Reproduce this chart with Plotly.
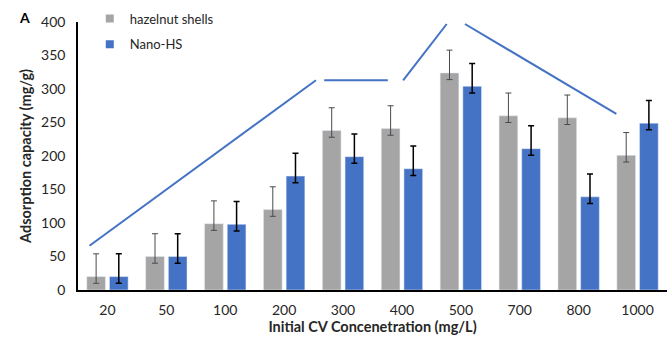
import plotly.graph_objects as go

categories = ["20", "50", "100", "200", "300", "400", "500", "700", "800", "1000"]
hazelnut = [20, 50, 99, 120, 238, 241, 324, 260, 257, 201]
nano = [20, 50, 98, 170, 199, 181, 304, 211, 139, 249]
err_plus = [34] * 10
err_minus = [10] * 10

# decorative bracket line (category-index units, mg/g)
deco_x = [-0.305, 3.54, None, 3.68, 4.76, None, 5.02, 5.76, None, 6.07, 8.64]
deco_y = [66, 313, None, 313, 313, None, 313, 397, None, 397, 263]

GRAY = "#A5A5A5"
BLUE = "#4472C4"
FONT = "Lato"

xs = list(range(len(categories)))

fig = go.Figure()
fig.add_trace(go.Bar(
    x=xs, y=hazelnut, name="hazelnut shells", marker_color=GRAY, showlegend=False,
    error_y=dict(type="data", array=err_plus, arrayminus=err_minus, symmetric=False,
                 color="#4a4a4a", thickness=1, width=3),
))
fig.add_trace(go.Bar(
    x=xs, y=nano, name="Nano-HS", marker_color=BLUE, showlegend=False,
    error_y=dict(type="data", array=err_plus, arrayminus=err_minus, symmetric=False,
                 color="black", thickness=1.5, width=3),
))
fig.add_trace(go.Scatter(
    x=deco_x, y=deco_y, mode="lines", line=dict(color=BLUE, width=2),
    showlegend=False, hoverinfo="skip", connectgaps=False,
))
# legend entries
fig.add_trace(go.Scatter(x=[None], y=[None], mode="markers", name="hazelnut shells",
                         marker=dict(symbol="square", size=8, color=GRAY), legendgroup="a"))
fig.add_trace(go.Scatter(x=[None], y=[None], mode="markers", name="Nano-HS",
                         marker=dict(symbol="square", size=8, color=BLUE), legendgroup="b"))

fig.update_layout(
    width=667, height=337,
    margin=dict(l=78, r=0, t=22, b=47),
    plot_bgcolor="white", paper_bgcolor="white",
    font=dict(family=FONT, size=14, color="#262626"),
    barmode="group", bargap=0.23, bargroupgap=0.176,
    legend=dict(x=0.02, y=1.069, xanchor="left", yanchor="top",
                font=dict(size=13, color="#262626"),
                traceorder="grouped", tracegroupgap=6,
                itemwidth=30, bgcolor="rgba(0,0,0,0)"),
    xaxis=dict(
        range=[-0.5, 9.5], tickvals=xs, ticktext=categories,
        showline=True, linecolor="black", linewidth=1.5, showgrid=False, zeroline=False,
        ticks="", tickfont=dict(size=14), ticklabelstandoff=6,
        title=dict(text="<b>Initial CV Concenetration (mg/L)</b>", font=dict(size=14.5, color="#262626"), standoff=4),
    ),
    yaxis=dict(
        range=[0, 400], dtick=50, showline=True, linecolor="black", linewidth=1.5,
        showgrid=False, zeroline=False, ticks="", tickfont=dict(size=14), ticklabelstandoff=8,
        title=dict(text="<b>Adsorption capacity (mg/g)</b>", font=dict(size=14.5, color="#262626"), standoff=6),
    ),
    annotations=[dict(text="<b>A</b>", x=-0.09, y=1.015, xref="paper", yref="paper",
                      xanchor="center", yanchor="middle",
                      showarrow=False, font=dict(size=14, color="black"))],
)

fig.write_html("out.html")
